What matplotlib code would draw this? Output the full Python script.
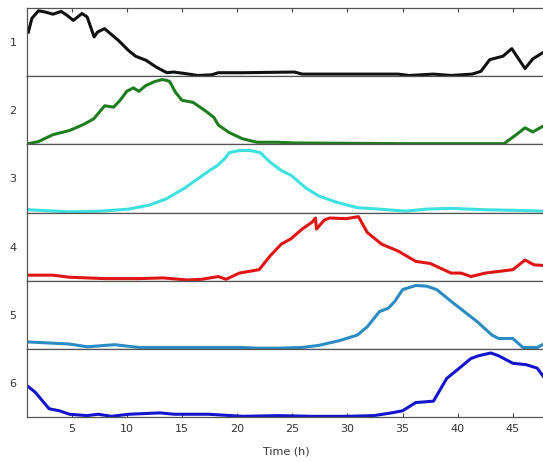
import matplotlib
matplotlib.use('Agg')
import matplotlib.pyplot as plt

# Dados (tempo em horas, intensidade normalizada 0-1)
t1 = [1.08, 1.4, 2.0, 2.65, 3.3, 4.06, 4.53, 5.16, 5.94, 6.41, 7.04, 7.35, 7.98, 9.24, 10.18, 10.8, 11.75,
      12.69, 13.63, 14.25, 15.2, 16.45, 17.7, 18.3, 20.5, 25.2, 25.9, 29.9, 34.6, 35.6, 37.8, 39.4, 41.3,
      42.1, 42.9, 44.1, 44.9, 46.1, 46.8, 47.8]
v1 = [0.63, 0.83, 0.94, 0.92, 0.89, 0.93, 0.88, 0.80, 0.90, 0.85, 0.56, 0.63, 0.68, 0.51, 0.36, 0.28, 0.22,
      0.12, 0.04, 0.05, 0.03, 0.0, 0.01, 0.04, 0.04, 0.05, 0.02, 0.02, 0.02, 0.0, 0.02, 0.0, 0.02,
      0.06, 0.23, 0.28, 0.39, 0.10, 0.24, 0.34]

t2 = [1.08, 2.0, 3.3, 4.8, 6.1, 7.0, 8.0, 8.8, 9.4, 10.0, 10.6, 11.1, 11.7, 12.5, 13.2, 13.6, 13.9, 14.4,
      15.0, 16.0, 17.1, 17.9, 18.3, 19.3, 20.5, 21.8, 23.7, 25.2, 35.0, 44.2, 45.3, 46.1, 46.8, 47.8]
v2 = [0.0, 0.03, 0.13, 0.19, 0.28, 0.36, 0.55, 0.53, 0.63, 0.76, 0.81, 0.76, 0.84, 0.90, 0.93, 0.92, 0.90, 0.75,
      0.63, 0.60, 0.48, 0.38, 0.27, 0.16, 0.07, 0.02, 0.02, 0.01, 0.0, 0.0, 0.13, 0.23, 0.17, 0.26]

t3 = [1.08, 4.8, 7.7, 10.2, 12.1, 13.6, 15.2, 16.8, 17.7, 18.2, 18.8, 19.3, 20.2, 21.2, 22.1, 23.0, 24.0,
      24.9, 26.2, 27.4, 29.0, 30.9, 32.8, 35.3, 37.2, 39.4, 42.5, 45.6, 47.8]
v3 = [0.03, 0.0, 0.01, 0.04, 0.10, 0.19, 0.34, 0.52, 0.62, 0.67, 0.76, 0.86, 0.89, 0.89, 0.86, 0.72, 0.60,
      0.53, 0.35, 0.23, 0.14, 0.06, 0.04, 0.01, 0.04, 0.05, 0.03, 0.02, 0.01]

t4 = [1.08, 3.3, 4.8, 8.0, 11.1, 13.3, 15.5, 16.8, 18.3, 19.0, 20.2, 22.0, 23.0, 24.0, 24.9, 25.9, 26.8,
      27.1, 27.2, 27.9, 28.4, 29.9, 31.0, 31.8, 33.1, 34.6, 36.2, 37.5, 39.4, 40.3, 41.2, 42.5, 45.0,
      46.1, 46.9, 47.8]
v4 = [0.07, 0.07, 0.04, 0.02, 0.02, 0.03, 0.0, 0.01, 0.05, 0.01, 0.10, 0.15, 0.35, 0.52, 0.60, 0.74, 0.84,
      0.90, 0.74, 0.87, 0.90, 0.89, 0.92, 0.69, 0.52, 0.42, 0.27, 0.24, 0.10, 0.10, 0.05, 0.10, 0.15,
      0.29, 0.22, 0.21]

t5 = [1.08, 2.3, 4.8, 6.4, 8.9, 11.1, 20.5, 21.8, 23.7, 25.9, 27.4, 29.3, 30.9, 31.8, 32.9, 33.7, 34.3,
      35.0, 36.2, 37.2, 38.1, 39.4, 40.6, 41.8, 43.1, 43.7, 45.0, 45.9, 47.2, 47.8]
v5 = [0.09, 0.08, 0.06, 0.02, 0.05, 0.01, 0.01, 0.0, 0.0, 0.01, 0.04, 0.11, 0.19, 0.31, 0.53, 0.58, 0.68,
      0.85, 0.91, 0.90, 0.85, 0.68, 0.53, 0.38, 0.19, 0.14, 0.14, 0.01, 0.01, 0.06]

t6 = [1.08, 1.7, 2.96, 3.9, 4.8, 6.4, 7.4, 8.6, 10.2, 13.0, 14.3, 17.4, 20.5, 23.7, 26.8, 29.9, 32.4, 34.0,
      35.0, 36.2, 37.8, 39.0, 40.3, 41.2, 41.9, 43.0, 43.7, 45.0, 46.2, 47.2, 47.8]
v6 = [0.43, 0.35, 0.11, 0.08, 0.03, 0.01, 0.03, 0.0, 0.03, 0.05, 0.03, 0.03, 0.0, 0.01, 0.0, 0.0, 0.01, 0.05,
      0.08, 0.20, 0.22, 0.55, 0.72, 0.84, 0.88, 0.92, 0.88, 0.77, 0.75, 0.70, 0.57]

series = [(t1, v1), (t2, v2), (t3, v3), (t4, v4), (t5, v5), (t6, v6)]
rotulos = ['1', '2', '3', '4', '5', '6']
cores = ['#111111', '#1e7d1e', '#3ee0e0', '#e01414', '#2a8cc2', '#1414cc']
xticks = [5, 10, 15, 20, 25, 30, 35, 40, 45]

fig, axes = plt.subplots(6, 1, sharex=True, figsize=(5.43, 4.62), dpi=100)
fig.subplots_adjust(left=0.0506, right=1.0055, top=1 - 8 / 462, bottom=1 - 417 / 462, hspace=0)

for i, ax in enumerate(axes):
    t, v = series[i]
    ax.plot(t, v, color=cores[i], linewidth=2.2, solid_joinstyle='round')
    ax.set_ylim(-0.01, 0.98)
    ax.set_xlim(1, 48)
    ax.set_yticks([0.485])
    ax.set_yticklabels([rotulos[i]], fontsize=8, color='#333333')
    ax.tick_params(axis='y', length=0, pad=8)
    ax.tick_params(axis='x', direction='in', length=3, color='#444444', pad=5,
                   top=(i == 0), bottom=(i == 5), labelbottom=(i == 5),
                   labelsize=8, labelcolor='#333333')
    for s in ax.spines.values():
        s.set_color('#555555')
        s.set_linewidth(0.9)

axes[-1].set_xticks(xticks)
axes[-1].set_xticklabels([str(x) for x in xticks])
axes[-1].set_xlabel('Time (h)', fontsize=8, color='#333333', labelpad=9)

plt.savefig('out.png', dpi=100)
